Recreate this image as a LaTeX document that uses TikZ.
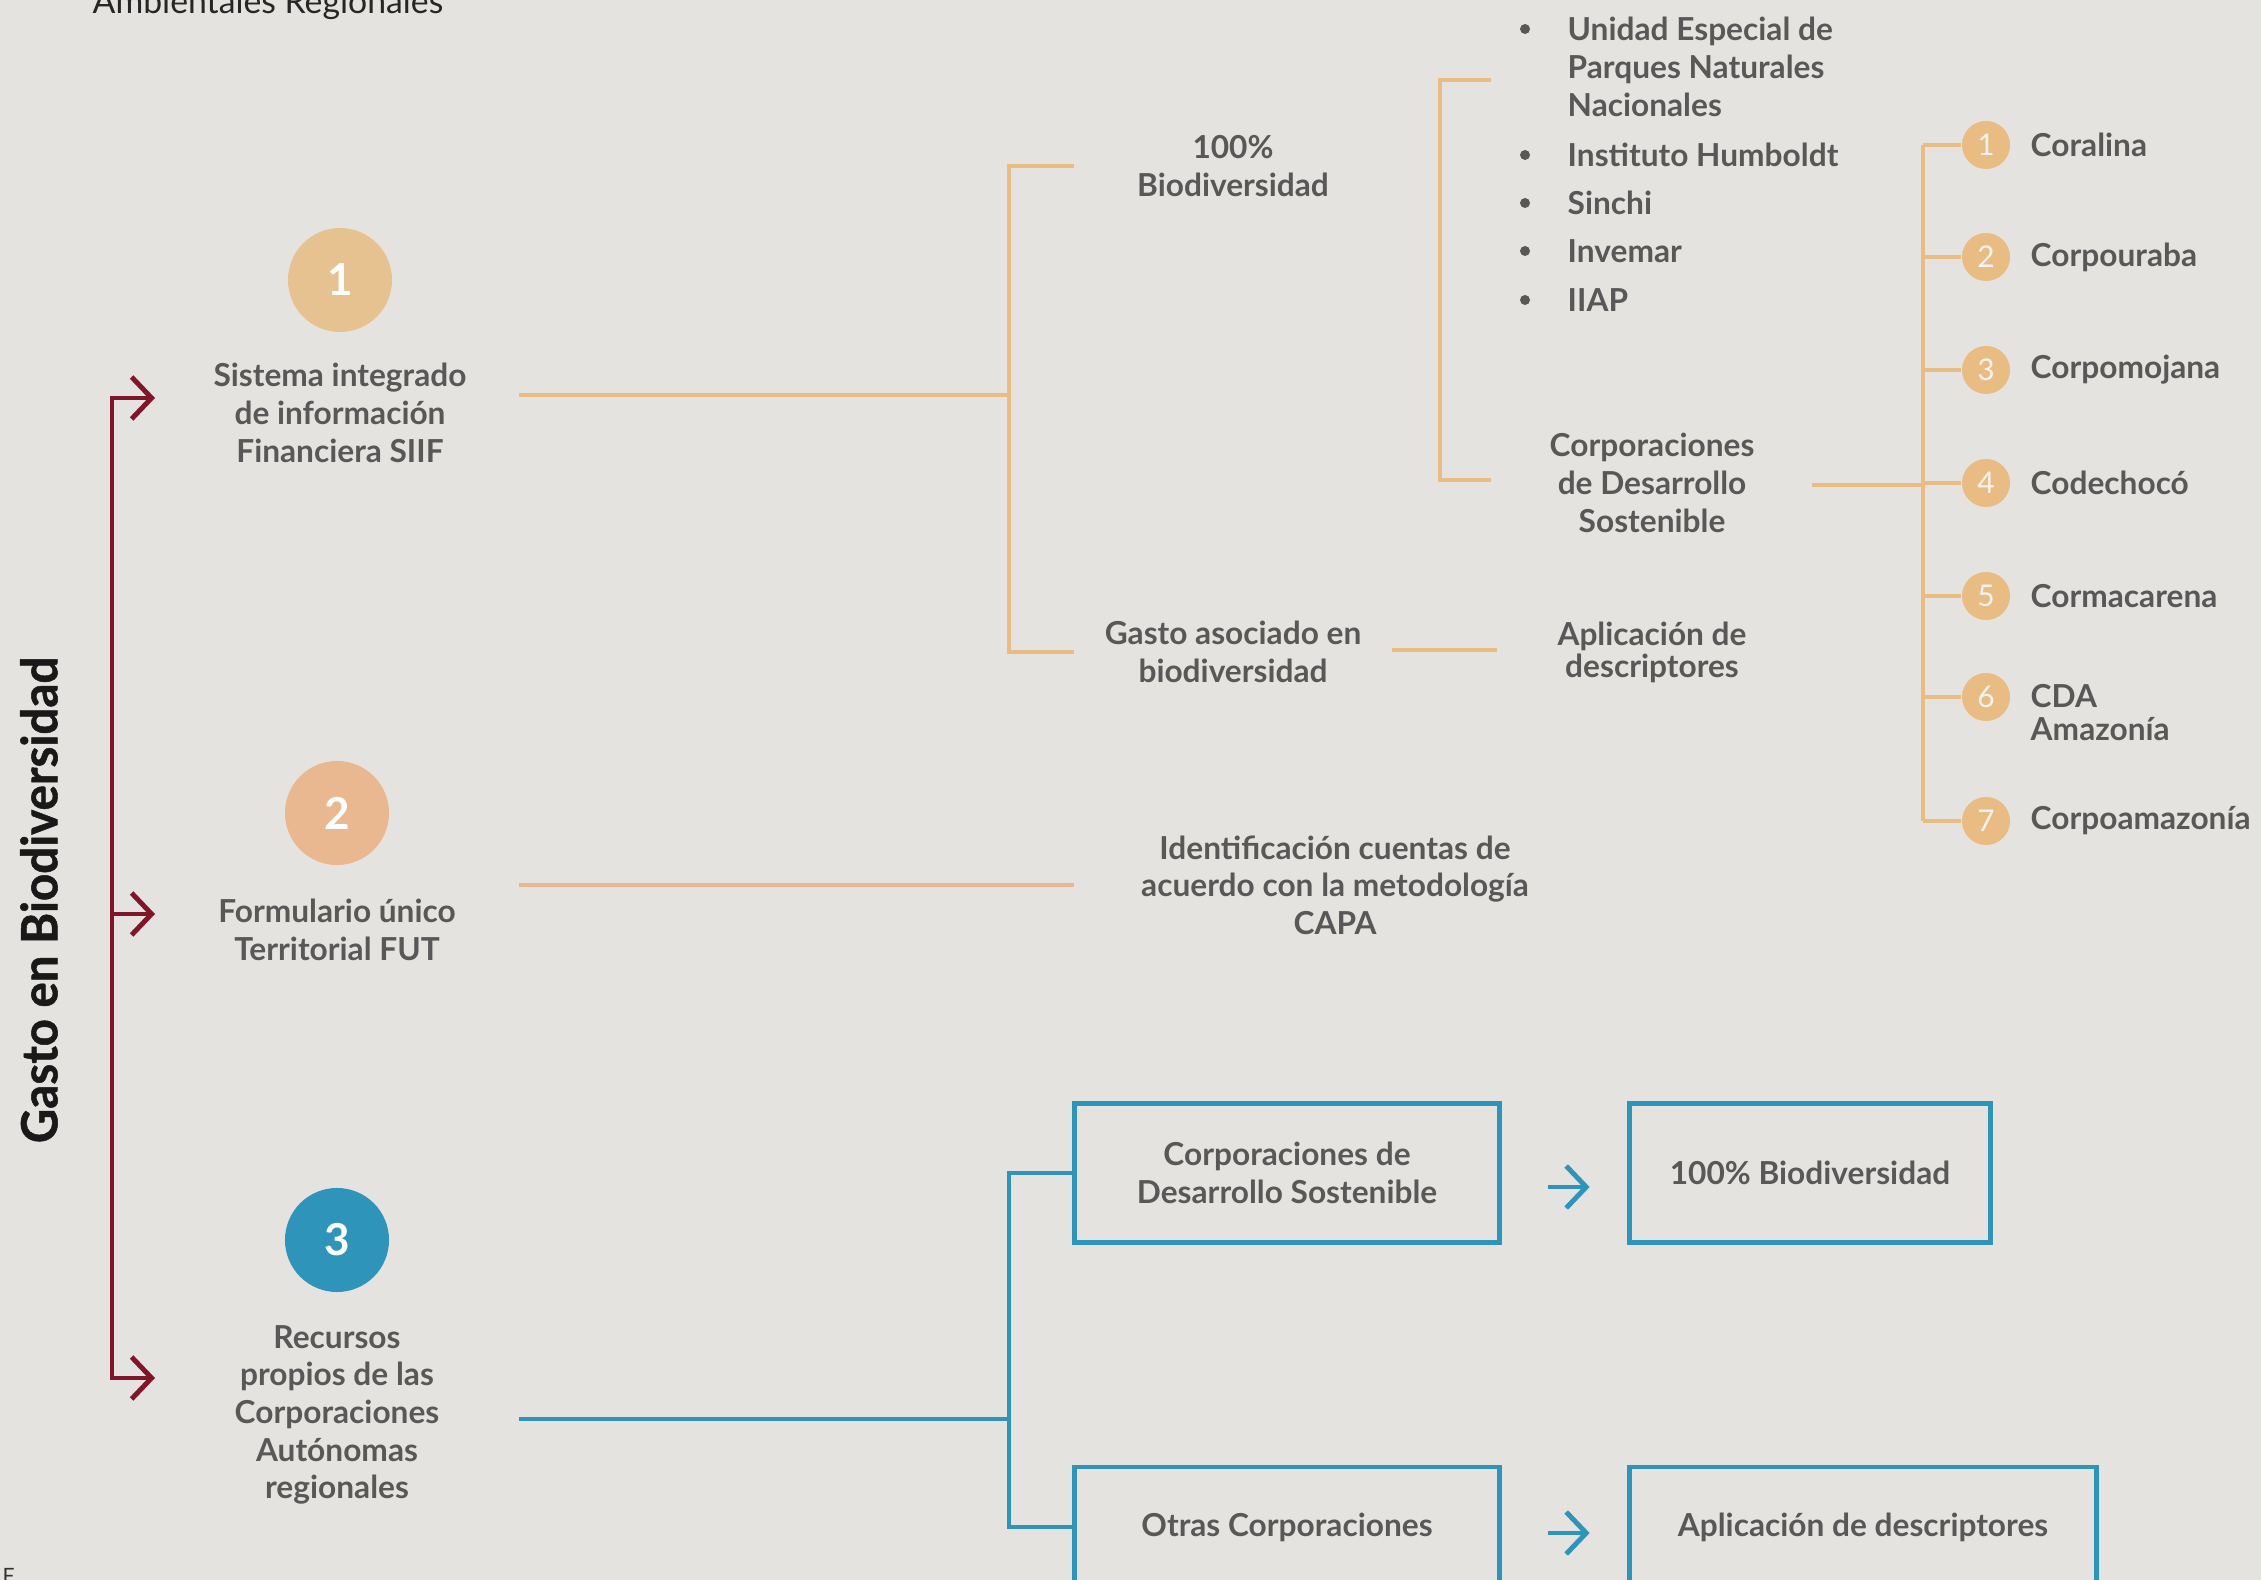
\documentclass[tikz,border=0pt]{standalone}
\usepackage{fontspec}
\setmainfont{Lato}
\newfontfamily\plainfont{Lato}
\newfontfamily\narrowfont{Lato}[FakeStretch=0.95,BoldFeatures={FakeBold=1}]
\usepackage{xcolor}
\usetikzlibrary{positioning}
\usetikzlibrary{arrows.meta}

\definecolor{paper}{RGB}{229,227,223}
\definecolor{grau}{RGB}{88,88,88}
\definecolor{ocre}{RGB}{231,194,145}
\definecolor{naranja}{RGB}{232,188,130}
\definecolor{salmon}{RGB}{233,184,144}
\definecolor{vino}{RGB}{128,22,42}
\definecolor{azul}{RGB}{46,148,186}

\tikzset{
  txt/.style={text=grau,align=center,inner sep=0pt,font=\fontsize{9}{10.7}\selectfont\bfseries},
  num/.style={circle,minimum size=1.04cm,inner sep=0pt,text=white,font=\fontsize{12.5}{12.5}\selectfont\bfseries},
  dot/.style={circle,minimum size=0.48cm,inner sep=0pt,fill=naranja,text=paper!40!white,font=\plainfont\fontsize{8.5}{8.5}\selectfont},
  oline/.style={draw=naranja,line width=1.1pt},
  bline/.style={draw=azul,line width=1.1pt},
  rline/.style={draw=vino,line width=1.4pt},
  caja/.style={txt,draw=azul,line width=1.4pt,minimum height=1.38cm},
  barb/.style={-{Straight Barb[length=0.2cm,width=0.42cm]}},
}

\begin{document}
\begin{tikzpicture}[x=0.01cm,y=-0.01cm]
\fill[paper] (0,0) rectangle (2261,1580);
\useasboundingbox (0,0) rectangle (2261,1580);

\node (head) [anchor=base west,inner sep=0pt,text=black!85,font=\plainfont\fontsize{9.6}{9.6}\selectfont] at (92,14) {Ambientales Regionales};
\node (pie) [anchor=north west,inner sep=0pt,text=black!80,font=\plainfont\fontsize{6}{6}\selectfont] at (2,1568) {F};
\node (titulo) [rotate=90,inner sep=0pt,text=black!90,font=\narrowfont\bfseries\fontsize{14.2}{14.2}\selectfont] at (39,900) {Gasto en Biodiversidad};

% tronco rojo
\coordinate (rtop) at (112,398);
\coordinate (rbot) at (112,1378);
\coordinate (r1) at (155,398);
\coordinate (r2) at (155,914);
\coordinate (r3) at (155,1378);
\draw[rline,{Straight Barb[length=0.2cm,width=0.42cm]}-{Straight Barb[length=0.2cm,width=0.42cm]}] (r1) -- (rtop) -- (rbot) -- (r3);
\draw[rline,barb] (rtop |- r2) -- (r2);

\node (c1) [num,fill=ocre] at (340,280) {1};
\node (siif) [txt,below=0.3cm of c1] {Sistema integrado\\de información\\Financiera SIIF};
\node (c2) [num,fill=salmon] at (337,813) {2};
\node (fut) [txt,below=0.33cm of c2] {Formulario único\\Territorial FUT};
\node (c3) [num,fill=azul] at (337,1240) {3};
\node (rec) [txt,below=0.32cm of c3] {Recursos\\propios de las\\Corporaciones\\Autónomas\\regionales};

% rama 1
\coordinate (s1) at (519,395);
\coordinate (s2) at (1009,395);
\coordinate (bt) at (1074,166);
\coordinate (bb) at (1074,652);
\node (bio) [txt] at (1233,166) {100\%\\Biodiversidad};
\node (gasto) [txt] at (1233,652) {Gasto asociado en\\biodiversidad};
\node (apl) [txt,font=\fontsize{9}{9.1}\selectfont\bfseries] at (1652,652) {Aplicación de\\descriptores};
\draw[oline] (s1) -- (s2);
\draw[oline] (bt) -| (s2) |- (bb);
\draw[oline] ([xshift=0.3cm,yshift=0.02cm]gasto.east) -- ([xshift=-0.6cm,yshift=0.02cm]apl.west);

\coordinate (k1) at (1491,80);
\coordinate (k2) at (1491,480);
\draw[oline] (k1) -- ++(-51,0) |- (k2);

\foreach \y/\t [count=\i] in {155/Instituto Humboldt,203/Sinchi,251/Invemar,300/IIAP}{
  \fill[grau] (1525,\y) circle (5);
  \node (l\i) [txt,anchor=west] at (1567,\y) {\t};
}
\fill[grau] (1525,29) circle (5);
\node (une) [txt,align=left,anchor=west] at (1567,67) {Unidad Especial de\\Parques Naturales\\Nacionales};

\node (cds) [txt] at (1652,483) {Corporaciones\\de Desarrollo\\Sostenible};
\coordinate (v1) at (1812,485);
\coordinate (v0) at (1923,485);
\draw[oline] (v1) -- (v0);

\foreach \n/\y/\t in {1/145/Coralina,2/257/Corpouraba,3/370/Corpomojana,4/483/Codechocó,5/596/Cormacarena,7/821/Corpoamazonía}{
  \node (d\n) [dot] at (1986,\y) {\n};
  \node (e\n) [txt,anchor=west] at (2030,\y) {\t};
}
\node (d6) [dot] at (1986,697) {6};
\node (e6) [txt,align=left,anchor=west,font=\fontsize{9}{9.4}\selectfont\bfseries] at (2030,713) {CDA\\Amazonía};
\draw[oline] (v0 |- d1) -- (v0 |- d7);
\foreach \n in {1,...,7}
  \draw[oline] (d\n.west) -- (v0 |- d\n);

% rama 2
\coordinate (f1) at (519,885);
\coordinate (f2) at (1074,885);
\draw[draw=salmon,line width=1.1pt] (f1) -- (f2);
\node (ident) [txt] at (1335,885) {Identificación cuentas de\\acuerdo con la metodología\\CAPA};

% rama 3
\coordinate (t1) at (519,1419);
\coordinate (t3) at (1009,1419);
\node (b1) [caja,minimum width=4.24cm] at (1287,1173) {Corporaciones de\\Desarrollo Sostenible};
\node (b2) [caja,minimum width=3.6cm] at (1810,1173) {100\% Biodiversidad};
\node (b3) [caja,minimum width=4.24cm,minimum height=1.2cm] at (1287,1527) {Otras Corporaciones};
\node (b4) [caja,minimum width=4.67cm,minimum height=1.2cm] at (1863,1527) {Aplicación de descriptores};
\draw[bline] (t1) -- (t3);
\draw[bline] (b1.west) -| (t3) |- (b3.west);
\draw[rline,draw=azul,barb] ([xshift=0.46cm,yshift=-0.14cm]b1.east) -- ++(42,0);
\draw[rline,draw=azul,barb] ([xshift=0.46cm,yshift=-0.06cm]b3.east) -- ++(42,0);
\end{tikzpicture}
\end{document}
